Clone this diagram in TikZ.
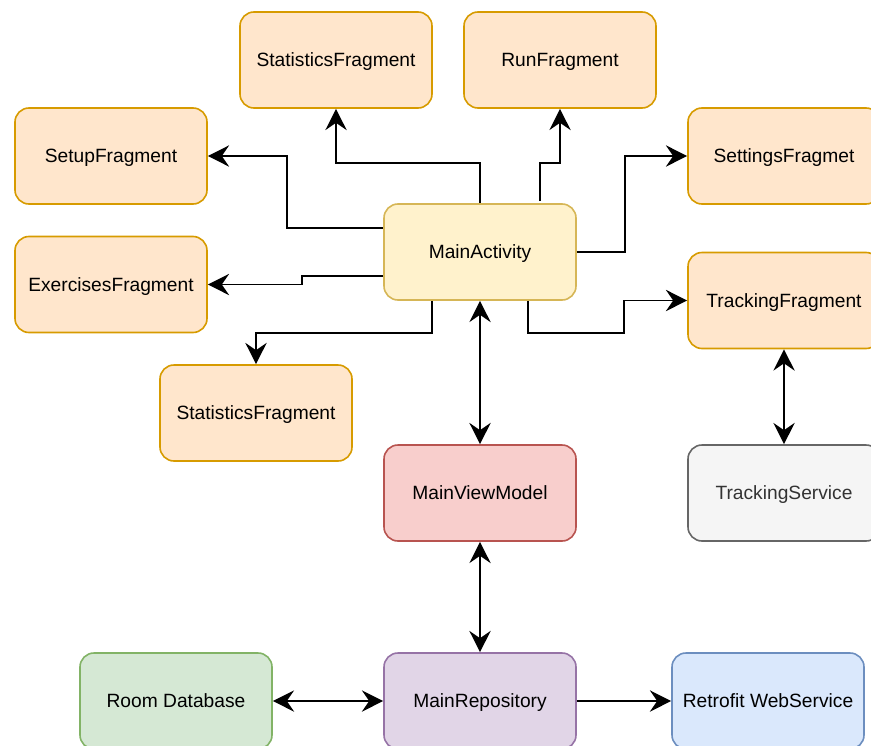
\documentclass[tikz,border=0pt]{standalone}
\usepackage{fontspec}
\setmainfont{Liberation Sans}
\usetikzlibrary{arrows.meta,calc}
\definecolor{fragfill}{HTML}{FFE6CC}
\definecolor{fragdraw}{HTML}{D79B00}
\definecolor{actfill}{HTML}{FFF2CC}
\definecolor{actdraw}{HTML}{D6B656}
\definecolor{vmfill}{HTML}{F8CECC}
\definecolor{vmdraw}{HTML}{B85450}
\definecolor{srvfill}{HTML}{F5F5F5}
\definecolor{srvdraw}{HTML}{666666}
\definecolor{srvtext}{HTML}{333333}
\definecolor{dbfill}{HTML}{D5E8D4}
\definecolor{dbdraw}{HTML}{82B366}
\definecolor{repofill}{HTML}{E1D5E7}
\definecolor{repodraw}{HTML}{9673A6}
\definecolor{webfill}{HTML}{DAE8FC}
\definecolor{webdraw}{HTML}{6C8EBF}
\begin{document}
\begin{tikzpicture}[x=0.75pt,y=-0.75pt,
		box/.style={rectangle,rounded corners=10.5pt,line width=1.2pt,
			minimum width=144pt,minimum height=72pt,inner sep=0pt,text height=10pt,text depth=0pt,
			font=\fontsize{14.4}{17}\selectfont},
		frag/.style={box,draw=fragdraw,fill=fragfill},
		arr/.style={line width=1.2pt,-{Stealth[length=16pt,width=16pt,inset=5.5pt]}},
		biarr/.style={line width=1.2pt,{Stealth[length=16pt,width=16pt,inset=5.5pt]}-{Stealth[length=16pt,width=16pt,inset=5.5pt]}}]
			\useasboundingbox (0,0) rectangle (871,746);
			\clip (0,0) rectangle (871,746);
			\node[frag](statsTop) at (336,60) {StatisticsFragment};
			\node[frag](run) at (560,60) {RunFragment};
			\node[frag](setup) at (111,156) {SetupFragment};
			\node[frag](settings) at (784,156) {SettingsFragmet};
			\node[box,draw=actdraw,fill=actfill](main) at (480,252) {MainActivity};
			\node[frag](exercises) at (111,284.5) {ExercisesFragment};
			\node[frag](tracking) at (784,300.5) {TrackingFragment};
			\node[frag](statsBottom) at (256,413) {StatisticsFragment};
			\node[box,draw=vmdraw,fill=vmfill](viewModel) at (480,493) {MainViewModel};
			\node[box,draw=srvdraw,fill=srvfill,text=srvtext](trackingService) at (784,493) {TrackingService};
			\node[box,draw=dbdraw,fill=dbfill](room) at (176,701) {Room Database};
			\node[box,draw=repodraw,fill=repofill](repo) at (480,701) {MainRepository};
			\node[box,draw=webdraw,fill=webfill](retrofit) at (768,701) {Retrofit WebService};
			\draw[arr] (main.north) -- ++(0,-40) -| (statsTop.south);
			\draw[arr] ($(main.north)+(60,-2)$) -- ++(0,-38) -| (run.south);
			\draw[arr] ($(main.west)+(0,-24)$) -- ++(-96,0) |- (setup.east);
			\draw[arr] ($(main.west)+(0,24)$) -- ++(-81,0) |- (exercises.east);
			\draw[arr] ($(main.south)+(-48,0)$) -- ++(0,32) -| (statsBottom.north);
			\draw[arr] (main.east) -- ++(48,0) |- (settings.west);
			\draw[arr] ($(main.south)+(48,0)$) -- ++(0,32) -- ++(96,0) |- (tracking.west);
			\draw[biarr] (main.south) -- (viewModel.north);
			\draw[biarr] (tracking.south) -- (trackingService.north);
			\draw[biarr] (viewModel.south) -- (repo.north);
			\draw[biarr] (room.east) -- (repo.west);
			\draw[arr] (repo.east) -- (retrofit.west);
		\end{tikzpicture}
\end{document}
